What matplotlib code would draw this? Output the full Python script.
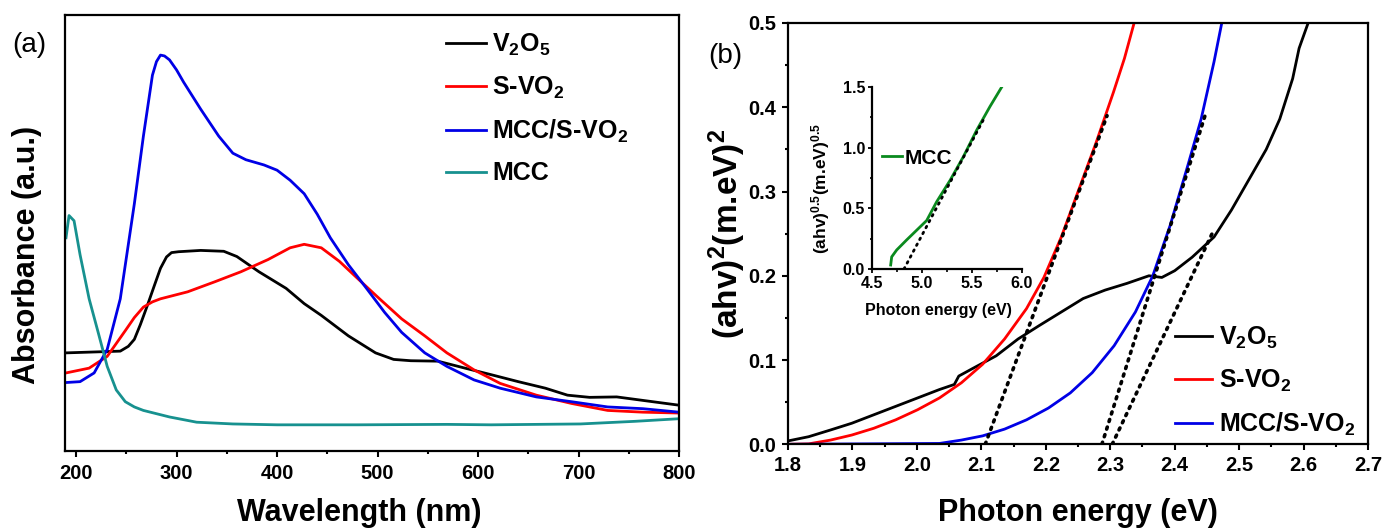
import numpy as np
import matplotlib
matplotlib.use("Agg")
import matplotlib.pyplot as plt
from matplotlib.ticker import MultipleLocator, NullLocator

plt.rcParams["font.family"] = ["Liberation Sans", "DejaVu Sans"]
plt.rcParams["font.weight"] = "bold"
plt.rcParams["mathtext.default"] = "regular"
plt.rcParams["axes.linewidth"] = 1.6

# ---- (a) UV-vis absorbance (arbitrary units, 0..1 of the axis) ----
v2o5_nm = [190, 244, 252, 258, 264, 271, 278, 284, 290, 295, 302, 324, 347, 360,
           382, 409, 427, 444, 471, 498, 516, 533, 560, 587, 613, 640, 667, 689,
           711, 738, 764, 800]
v2o5_abs = [0.225, 0.229, 0.240, 0.256, 0.290, 0.334, 0.380, 0.419, 0.445, 0.455,
            0.457, 0.460, 0.458, 0.446, 0.411, 0.373, 0.338, 0.311, 0.264, 0.225,
            0.210, 0.207, 0.206, 0.190, 0.175, 0.159, 0.144, 0.128, 0.123, 0.124,
            0.116, 0.105]

svo2_nm = [190, 213, 231, 249, 258, 267, 276, 284, 311, 338, 364, 391, 413, 427,
           444, 462, 480, 502, 524, 547, 569, 596, 622, 658, 693, 729, 764, 800]
svo2_abs = [0.179, 0.190, 0.217, 0.276, 0.306, 0.330, 0.342, 0.349, 0.365, 0.388,
            0.411, 0.439, 0.466, 0.474, 0.466, 0.435, 0.396, 0.349, 0.303, 0.264,
            0.225, 0.186, 0.155, 0.128, 0.109, 0.093, 0.089, 0.087]

mcc_svo2_nm = [190, 204, 218, 231, 244, 258, 267, 276, 280, 284, 288, 293, 300, 307,
               324, 342, 356, 369, 387, 400, 413, 427, 440, 453, 471, 489, 507, 524,
               547, 569, 596, 622, 658, 693, 729, 764, 800]
mcc_svo2_abs = [0.157, 0.159, 0.179, 0.233, 0.349, 0.567, 0.722, 0.862, 0.893, 0.908,
                0.906, 0.897, 0.874, 0.846, 0.784, 0.722, 0.683, 0.668, 0.656, 0.644,
                0.621, 0.590, 0.543, 0.489, 0.427, 0.373, 0.318, 0.272, 0.225, 0.194,
                0.163, 0.144, 0.124, 0.113, 0.101, 0.097, 0.089]

mcc_nm = [190, 193, 198, 204, 213, 222, 231, 240, 249, 258, 267, 293, 320, 356, 400,
          480, 569, 613, 702, 756, 800]
mcc_abs = [0.489, 0.540, 0.528, 0.450, 0.349, 0.272, 0.194, 0.140, 0.113, 0.101,
           0.093, 0.078, 0.066, 0.062, 0.060, 0.060, 0.061, 0.060, 0.062, 0.068,
           0.074]

# ---- (b) Tauc plot ----
v2o5_ev = [1.800, 1.832, 1.866, 1.899, 1.933, 1.967, 2.001, 2.035, 2.058, 2.065,
           2.089, 2.123, 2.157, 2.190, 2.224, 2.258, 2.292, 2.326, 2.360, 2.380,
           2.400, 2.427, 2.461, 2.488, 2.515, 2.542, 2.563, 2.583, 2.593, 2.607]
v2o5_tauc = [0.004, 0.009, 0.017, 0.025, 0.035, 0.045, 0.055, 0.065, 0.071, 0.081,
             0.091, 0.105, 0.125, 0.141, 0.157, 0.173, 0.183, 0.191, 0.200, 0.198,
             0.206, 0.222, 0.246, 0.278, 0.314, 0.350, 0.386, 0.434, 0.470, 0.500]

svo2_ev = [1.800, 1.832, 1.866, 1.899, 1.933, 1.967, 2.001, 2.035, 2.069, 2.102,
           2.136, 2.170, 2.197, 2.224, 2.251, 2.278, 2.305, 2.322, 2.337]
svo2_tauc = [0.000, 0.0005, 0.005, 0.011, 0.019, 0.029, 0.041, 0.055, 0.073, 0.095,
             0.125, 0.161, 0.198, 0.246, 0.302, 0.358, 0.418, 0.458, 0.500]

mcc_svo2_ev = [1.800, 2.035, 2.069, 2.102, 2.136, 2.170, 2.204, 2.238, 2.272, 2.306,
               2.339, 2.366, 2.393, 2.420, 2.441, 2.461, 2.473]
mcc_svo2_tauc = [0.000, 0.001, 0.005, 0.010, 0.018, 0.029, 0.043, 0.061, 0.085, 0.117,
                 0.157, 0.200, 0.260, 0.330, 0.386, 0.454, 0.500]

# linear fits (x pair, y pair)
fit_svo2 = ([2.106, 2.295], [0.0, 0.39])
fit_mcc_svo2 = ([2.287, 2.447], [0.0, 0.39])
fit_v2o5 = ([2.303, 2.458], [0.0, 0.25])

# inset: MCC
mcc_ev = [4.687, 4.697, 4.747, 4.847, 4.947, 5.047, 5.147, 5.280, 5.413, 5.547,
          5.680, 5.797]
mcc_tauc = [0.033, 0.100, 0.157, 0.240, 0.320, 0.400, 0.555, 0.730, 0.925, 1.145,
            1.340, 1.500]
fit_mcc = ([4.82, 5.63], [0.0, 1.255])

BLACK, RED, BLUE, TEAL, GREEN = "#000000", "#ff0000", "#0000e6", "#17918f", "#0a8a1e"

fig = plt.figure(figsize=(13.83, 5.31), dpi=100)

# ---------------- panel (a) ----------------
ax1 = fig.add_axes([0.0470, 0.1507, 0.4440, 0.8211])
ax1.plot(v2o5_nm, v2o5_abs, color=BLACK, lw=2, label="V$_2$O$_5$")
ax1.plot(svo2_nm, svo2_abs, color=RED, lw=2, label="S-VO$_2$")
ax1.plot(mcc_svo2_nm, mcc_svo2_abs, color=BLUE, lw=2, label="MCC/S-VO$_2$")
ax1.plot(mcc_nm, mcc_abs, color=TEAL, lw=2, label="MCC")
ax1.set_xlim(189, 800)
ax1.set_ylim(0, 1)
ax1.xaxis.set_major_locator(MultipleLocator(100))
ax1.xaxis.set_minor_locator(MultipleLocator(50))
ax1.yaxis.set_major_locator(NullLocator())
ax1.tick_params(axis="x", which="major", direction="out", length=4.5, width=1.5,
                labelsize=14.5, pad=5)
ax1.tick_params(axis="x", which="minor", direction="out", length=2.5, width=1.5)
ax1.legend(loc="upper left", bbox_to_anchor=(0.6205, 0.962), frameon=False,
           fontsize=18, handlelength=1.6, handletextpad=0.25, labelspacing=0.67,
           borderpad=0, borderaxespad=0)
fig.text(0.2596, 0.034, "Wavelength (nm)", ha="center", va="center", fontsize=22)
fig.text(0.0195, 0.52, "Absorbance (a.u.)", ha="center", va="center",
         rotation=90, fontsize=22)
fig.text(0.021, 0.915, "(a)", ha="center", va="center", fontsize=20,
         fontweight="normal")

# ---------------- panel (b) ----------------
ax2 = fig.add_axes([0.5698, 0.1633, 0.4194, 0.7934])
ax2.plot(v2o5_ev, v2o5_tauc, color=BLACK, lw=2, label="V$_2$O$_5$")
ax2.plot(svo2_ev, svo2_tauc, color=RED, lw=2, label="S-VO$_2$")
ax2.plot(mcc_svo2_ev, mcc_svo2_tauc, color=BLUE, lw=2, label="MCC/S-VO$_2$")
for fx, fy in (fit_svo2, fit_mcc_svo2, fit_v2o5):
    ax2.plot(fx, fy, color="black", lw=2.6, linestyle=(0, (0.6, 1.6)),
             dash_capstyle="round")
ax2.set_xlim(1.8, 2.7)
ax2.set_ylim(0, 0.5)
ax2.xaxis.set_major_locator(MultipleLocator(0.1))
ax2.xaxis.set_minor_locator(MultipleLocator(0.05))
ax2.yaxis.set_major_locator(MultipleLocator(0.1))
ax2.yaxis.set_minor_locator(MultipleLocator(0.05))
ax2.xaxis.set_major_formatter(plt.FormatStrFormatter("%.1f"))
ax2.yaxis.set_major_formatter(plt.FormatStrFormatter("%.1f"))
ax2.tick_params(which="major", direction="out", length=4.5, width=1.5,
                labelsize=14.5, pad=4)
ax2.tick_params(which="minor", direction="out", length=2.5, width=1.5)
ax2.legend(loc="upper left", bbox_to_anchor=(0.667, 0.283), frameon=False,
           fontsize=18, handlelength=1.5, handletextpad=0.28, labelspacing=0.67,
           borderpad=0, borderaxespad=0)
fig.text(0.7795, 0.034, "Photon energy (eV)", ha="center", va="center", fontsize=22)
fig.text(0.5257, 0.56, "(ahv)$^2$(m.eV)$^2$", ha="center", va="center",
         rotation=90, fontsize=24)
fig.text(0.5242, 0.8945, "(b)", ha="center", va="center", fontsize=20,
         fontweight="normal")

# ---------------- inset ----------------
ax3 = fig.add_axes([0.6305, 0.4934, 0.1085, 0.3427])
ax3.plot(mcc_ev, mcc_tauc, color=GREEN, lw=2, label="MCC")
ax3.plot(*fit_mcc, color="black", lw=2.0, linestyle=(0, (0.6, 1.8)),
         dash_capstyle="round")
ax3.set_xlim(4.5, 6.0)
ax3.set_ylim(0, 1.5)
for s in ("top", "right"):
    ax3.spines[s].set_visible(False)
ax3.patch.set_alpha(0)
ax3.xaxis.set_major_locator(MultipleLocator(0.5))
ax3.xaxis.set_minor_locator(MultipleLocator(0.25))
ax3.yaxis.set_major_locator(MultipleLocator(0.5))
ax3.yaxis.set_minor_locator(MultipleLocator(0.25))
ax3.xaxis.set_major_formatter(plt.FormatStrFormatter("%.1f"))
ax3.yaxis.set_major_formatter(plt.FormatStrFormatter("%.1f"))
ax3.tick_params(which="major", direction="out", length=3, width=1.3,
                labelsize=11.5, pad=2)
ax3.tick_params(which="minor", direction="out", length=1.8, width=1.2)
ax3.legend(loc="center left", bbox_to_anchor=(0.067, 0.61), frameon=False,
           fontsize=15, handlelength=0.95, handletextpad=0.15,
           borderpad=0, borderaxespad=0)
fig.text(0.6786, 0.416, "Photon energy (eV)", ha="center", va="center", fontsize=11.5)
fig.text(0.5935, 0.644, "(ahv)$^{0.5}$(m.eV)$^{0.5}$", ha="center", va="center",
         rotation=90, fontsize=12.5)

fig.savefig("out.png", dpi=100)
